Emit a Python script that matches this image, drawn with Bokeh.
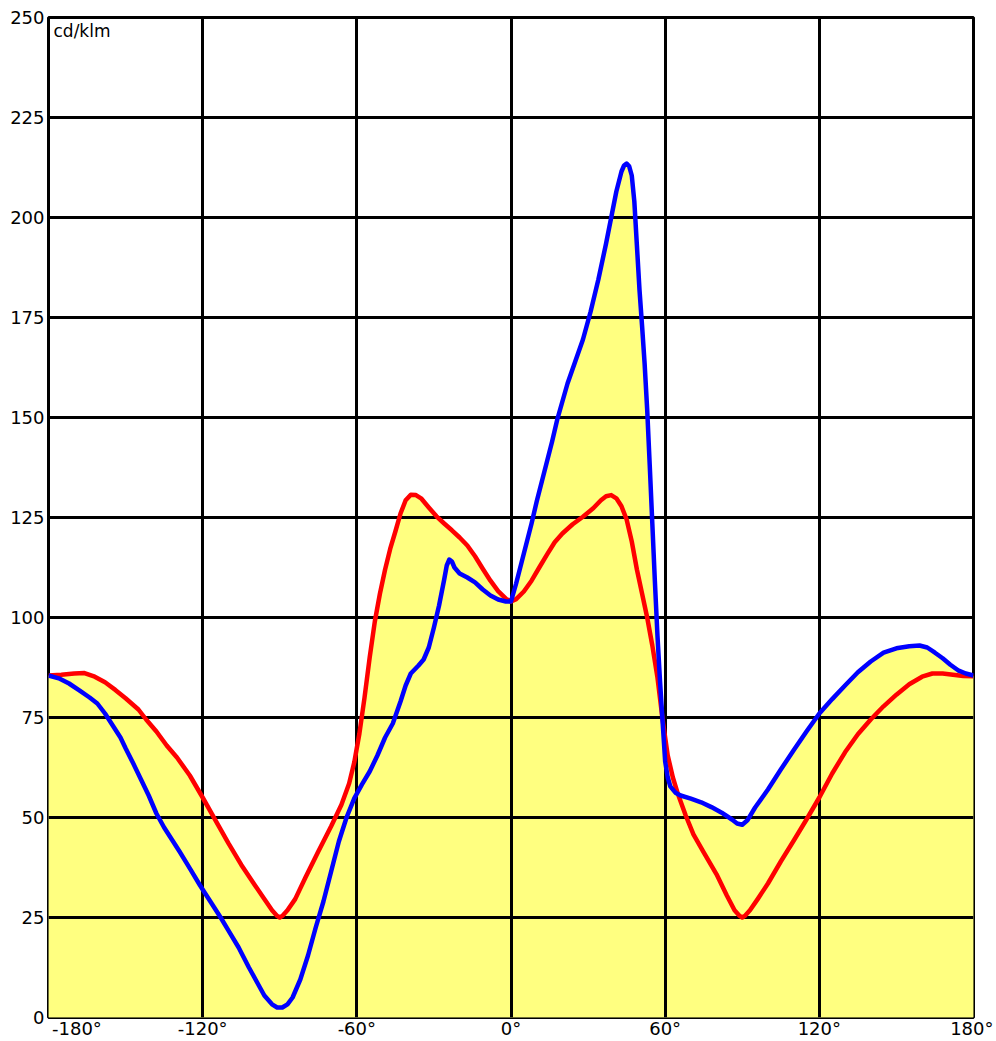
from bokeh.plotting import figure
from bokeh.models import Range1d, FixedTicker, Label
from bokeh.embed import file_html
from bokeh.resources import INLINE

# C0-C180 plane (red): angle in degrees, intensity in cd/klm
red_angles = [-180, -175, -170, -166, -162, -158, -154, -150, -145, -142, -138, -134,
              -130, -125, -120, -115, -110, -105, -100, -96, -93, -91, -90, -89, -87,
              -84, -80, -75, -70, -66, -63, -61, -59, -57, -55, -53, -51, -49, -47,
              -45, -43, -41, -39, -37, -35, -32, -29, -26, -23, -20, -17, -14, -11,
              -8, -5, -2, 0, 2, 5, 8, 11, 14, 17, 20, 24, 28, 32, 35, 37, 39, 41, 43,
              45, 47, 49, 51, 53, 55, 57, 59, 61, 63, 65, 68, 71, 75, 80, 84, 87, 89,
              90, 91, 93, 96, 100, 105, 110, 115, 120, 125, 130, 135, 140, 145, 150,
              155, 160, 164, 168, 172, 176, 180]
red_vals = [85.5, 85.7, 86.0, 86.1, 85.2, 83.8, 81.9, 79.8, 77.0, 74.5, 71.5, 68.0,
            65.0, 60.5, 55.0, 49.3, 43.6, 38.2, 33.4, 29.6, 26.8, 25.4, 25.0, 25.4, 26.8,
            29.6, 35.0, 41.5, 47.8, 53.2, 58.5, 63.8, 71.0, 80.0, 90.0, 99.0, 106.0, 112.0, 117.2,
            121.5, 126.0, 129.3, 130.7, 130.6, 129.8, 127.5, 125.3, 123.5, 121.8, 120.0, 118.0, 115.3, 112.2,
            109.2, 106.6, 104.7, 104.0, 104.6, 106.5, 109.2, 112.5, 115.7, 118.8, 121.0, 123.3, 125.2, 127.3, 129.3, 130.3, 130.6, 129.8, 127.8,
            124.5, 119.0, 112.0, 106.0, 100.0, 93.0, 85.0, 74.5, 65.5, 60.0, 55.8, 50.5, 45.8, 41.3, 35.8, 30.5, 26.8, 25.4,
            25.0, 25.4, 26.8, 29.6, 33.5, 39.0, 44.2, 49.5, 55.0, 61.0, 66.3, 70.8, 74.5, 77.8, 80.7,
            83.3, 85.2, 86.0, 86.0, 85.7, 85.4, 85.3]

# C90-C270 plane (blue)
blue_angles = [-180, -176, -172, -168, -164, -161, -158, -155, -152, -150, -147, -144,
               -141, -138, -135, -132, -129, -125, -121, -117, -113, -110, -106, -102,
               -99, -96, -93, -91, -89, -87, -85, -82, -79, -76, -73, -70, -67, -64,
               -61, -58, -55, -52, -49, -46, -43, -41, -39, -36, -34, -32, -30, -28,
               -26, -25, -24, -23, -22, -20, -17, -14, -11, -8, -5, -2, 0, 2, 4, 6, 8,
               10, 12, 14, 16, 18, 20, 22, 25, 28, 31, 34, 37, 39, 41, 43, 44, 45, 46,
               47, 48, 49, 50, 51, 52, 53, 54, 55, 56, 57, 58, 59, 60, 61, 62, 64, 66,
               70, 74, 78, 82, 86, 88, 90, 92, 95, 100, 105, 110, 115, 120, 125, 130,
               135, 140, 145, 150, 155, 159, 162, 165, 168, 171, 174, 177, 180]
blue_vals = [85.5, 84.8, 83.5, 81.8, 80.0, 78.5, 76.0, 73.0, 70.0, 67.3, 63.5, 59.5,
             55.5, 51.0, 47.5, 44.5, 41.5, 37.3, 33.0, 29.0, 25.0, 21.8, 17.5, 12.5,
             9.0, 5.5, 3.3, 2.5, 2.5, 3.3, 5.0, 9.5, 15.5, 22.5, 29.0, 36.5, 44.0, 50.0,
             54.8, 58.3, 61.5, 65.5, 70.0, 73.5, 79.0, 83.0, 86.0, 88.0, 89.5, 92.5, 97.5, 103.0,
             109.5, 113.0, 114.5, 114.0, 112.5, 111.0, 110.0, 108.8, 107.0, 105.5, 104.5, 104.0, 104.0, 108.5, 113.5, 118.5, 123.5,
             129.0, 134.0, 139.0, 144.0, 149.5, 154.0, 158.5, 164.0, 169.5, 176.5, 184.5, 193.5, 200.0, 206.5, 211.5, 213.0, 213.5, 212.8,
             210.5, 204.0, 193.0, 182.0, 173.0, 163.5, 152.0, 138.0, 123.5, 109.0, 95.5, 84.0, 74.0, 64.0, 60.0, 57.8, 56.2, 55.5,
             54.7, 53.8, 52.6, 51.2, 49.5, 48.5, 48.2, 49.3, 52.5, 57.0, 62.0, 66.8, 71.5, 76.0, 79.6, 83.0,
             86.3, 89.0, 91.2, 92.3, 92.8, 93.0, 92.5, 91.2, 89.8, 88.2, 86.8, 86.0, 85.5]

x_ticks = [-180, -120, -60, 0, 60, 120, 180]
x_tick_labels = ["-180°", "-120°", "-60°", "0°", "60°", "120°", "180°"]
y_ticks = [0, 25, 50, 75, 100, 125, 150, 175, 200, 225, 250]
unit_label = "cd/klm"

FONT = "DejaVu Sans"
FS = "18px"
FILL = "#FFFF80"

p = figure(frame_width=925, frame_height=1000, output_backend="svg", toolbar_location=None,
           x_range=Range1d(-180, 180), y_range=Range1d(0, 250),
           min_border_left=48, min_border_right=20, min_border_top=17, min_border_bottom=0)
p.background_fill_color = "white"
p.border_fill_color = "white"
p.outline_line_color = "black"
p.outline_line_width = 3

# yellow area under the envelope of both curves (union of the two areas)
p.varea(x=red_angles, y1=0, y2=red_vals, fill_color=FILL, level="image")
p.varea(x=blue_angles, y1=0, y2=blue_vals, fill_color=FILL, level="image")
p.line(red_angles, red_vals, line_color="#FF0000", line_width=4.5, line_join="round")
p.line(blue_angles, blue_vals, line_color="#0000FF", line_width=4.5, line_join="round")

for g, t in ((p.xgrid, x_ticks), (p.ygrid, y_ticks)):
    g.ticker = FixedTicker(ticks=t)
    g.grid_line_color = "black"
    g.grid_line_width = 3

for ax in (p.xaxis, p.yaxis):
    ax.axis_line_color = None
    ax.major_tick_line_color = None
    ax.minor_tick_line_color = None
    ax.major_tick_out = 0
    ax.major_tick_in = 0
    ax.minor_tick_out = 0
    ax.major_label_text_font = FONT
    ax.major_label_text_font_size = FS
    ax.major_label_text_color = "black"

p.xaxis.ticker = FixedTicker(ticks=x_ticks)
overrides = {t: l for t, l in zip(x_ticks, x_tick_labels)}
# first label sits to the right of its tick, as in the original
overrides[-180] = "\u00a0" * 9 + x_tick_labels[0]
p.xaxis.major_label_overrides = overrides
p.xaxis.major_label_standoff = 0
p.yaxis.ticker = FixedTicker(ticks=y_ticks)
p.yaxis.major_label_standoff = 4

p.add_layout(Label(x=-180, y=250, x_offset=5, y_offset=-3, text=unit_label,
                   text_align="left", text_baseline="top",
                   text_font=FONT, text_font_size="17px", text_color="black"))

open("out.html", "w").write(file_html(p, INLINE))
